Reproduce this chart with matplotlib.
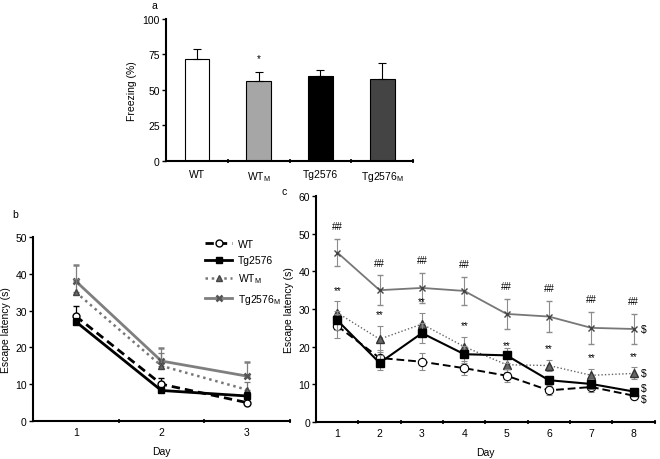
import numpy as np
import matplotlib.pyplot as plt

plt.rcParams['font.family'] = ['Liberation Sans', 'DejaVu Sans']
plt.rcParams['font.size'] = 7.5
plt.rcParams['mathtext.default'] = 'regular'

# panel a: freezing
groups = ['WT', r'WT$_M$', 'Tg2576', r'Tg2576$_M$']
freezing = [72, 56, 60, 57.5]
freezing_err = [7, 7, 4, 11.5]
bar_colors = ['white', '#a6a6a6', 'black', '#444444']

# panel b: escape latency, days 1-3
days_b = [1, 2, 3]
b_wt = [28.5, 10, 5]
b_wt_err = [2.8, 1.8, 1.0]
b_tg = [27, 8.3, 6.8]
b_tg_err = [1.0, 0.8, 1.0]
b_wtm = [35, 15, 8.5]
b_wtm_err = [3.5, 3.5, 2.0]
b_tgm = [38, 16.3, 12.2]
b_tgm_err = [4.5, 3.6, 3.8]

# panel c: escape latency, days 1-8
days_c = [1, 2, 3, 4, 5, 6, 7, 8]
c_wt = [25.5, 17, 16, 14.3, 12.3, 8.4, 9.3, 7]
c_wt_err = [3.3, 2.0, 2.3, 1.8, 1.8, 1.2, 1.4, 1.0]
c_tg = [27, 15.7, 23.6, 18, 17.7, 11.1, 10.1, 8.1]
c_tg_err = [2.5, 2.0, 2.6, 2.2, 2.0, 1.2, 1.3, 1.0]
c_wtm = [29, 22, 26, 20, 15.2, 15, 12.4, 12.9]
c_wtm_err = [3.0, 3.5, 3.0, 2.5, 2.0, 1.5, 1.6, 1.6]
c_tgm = [45, 35, 35.6, 34.8, 28.7, 28, 25, 24.7]
c_tgm_err = [3.6, 4.0, 4.0, 3.8, 4.0, 4.2, 4.2, 4.0]

fig = plt.figure(figsize=(6.6, 4.6), dpi=100)


def style_axes(ax):
    for s in ['top', 'right']:
        ax.spines[s].set_visible(False)
    for s in ['left', 'bottom']:
        ax.spines[s].set_linewidth(1.5)
    ax.tick_params(axis='y', direction='out', length=3, width=1, pad=1.5)
    ax.tick_params(axis='x', which='major', length=0, pad=4)
    ax.tick_params(axis='x', which='minor', direction='inout', length=3, width=1.2)


# ---- a ----
axa = fig.add_axes([0.2515, 0.648, 0.3745, 0.3085])
x = np.arange(1, len(groups) + 1)
axa.bar(x, freezing, width=0.4, color=bar_colors, edgecolor='black', linewidth=0.8,
        yerr=[np.zeros(len(freezing)), freezing_err], capsize=3,
        error_kw=dict(elinewidth=0.8, capthick=0.8))
axa.text(2, freezing[1] + freezing_err[1] + 6, '*', ha='center', va='bottom', fontsize=7)
axa.set_xlim(0.5, 4.5)
axa.set_ylim(0, 100)
axa.set_yticks([0, 25, 50, 75, 100])
axa.set_xticks(x)
axa.set_xticklabels(groups)
axa.set_xticks([1.5, 2.5, 3.5, 4.5], minor=True)
axa.set_ylabel('Freezing (%)', labelpad=4)
style_axes(axa)
axa.tick_params(axis='x', which='major', pad=6)
fig.text(152 / 660, 1 - 6 / 460, 'a', fontsize=7.5, va='center')

# ---- b ----
axb = fig.add_axes([0.05, 0.0826, 0.389, 0.4])
eb = dict(capsize=2.5, elinewidth=0.9, capthick=0.9)
axb.errorbar(days_b, b_tgm, yerr=[np.zeros(3), b_tgm_err], color='#7f7f7f', ecolor='#7f7f7f',
             lw=2, marker='x', ms=9, mew=1.8, mec='#555555', label=r'Tg2576$_M$', zorder=2, **eb)
axb.errorbar(days_b, b_wtm, yerr=[np.zeros(3), b_wtm_err], color='#777777', ecolor='#777777',
             lw=1.8, ls=(0, (1, 1.5)), marker='^', ms=9, mfc='#666666', mec='#444444',
             label=r'WT$_M$', zorder=3, **eb)
axb.errorbar(days_b, b_wt, yerr=[np.zeros(3), b_wt_err], color='black', ecolor='black',
             lw=2, ls=(0, (3, 1.8)), marker='o', ms=8, mfc='white', mec='black', mew=1,
             label='WT', zorder=4, **eb)
axb.errorbar(days_b, b_tg, yerr=[np.zeros(3), b_tg_err], color='black', ecolor='black',
             lw=2, marker='s', ms=7, mfc='black', label='Tg2576', zorder=5, **eb)
axb.set_xlim(0.5, 3.5)
axb.set_ylim(0, 50)
axb.set_yticks([0, 10, 20, 30, 40, 50])
axb.set_xticks(days_b)
axb.set_xticks([1.5, 2.5, 3.5], minor=True)
axb.set_xlabel('Day', labelpad=7)
axb.set_ylabel('Escape latency (s)', labelpad=3)
style_axes(axb)
h, l = axb.get_legend_handles_labels()
order = [l.index('WT'), l.index('Tg2576'), l.index(r'WT$_M$'), l.index(r'Tg2576$_M$')]
hs = [h[i][0] for i in order]
for hh in hs:
    hh.set_markersize(5)
axb.legend(hs, [l[i] for i in order], loc='upper right', bbox_to_anchor=(1.0, 1.04),
           frameon=False, handlelength=2.6, handletextpad=0.5, labelspacing=0.6,
           fontsize=7.5)
fig.text(12 / 660, 1 - 215 / 460, 'b', fontsize=7.5, va='center')

# ---- c ----
axc = fig.add_axes([0.479, 0.0804, 0.513, 0.4913])
ec = dict(capsize=2, elinewidth=0.8, capthick=0.8)
axc.errorbar(days_c, c_tgm, yerr=c_tgm_err, color='#777777', ecolor='#8c8c8c', lw=1.3,
             marker='x', ms=5, mew=1, mec='#444444', zorder=2, **ec)
axc.errorbar(days_c, c_wtm, yerr=c_wtm_err, color='#666666', ecolor='#8c8c8c', lw=1,
             ls=(0, (1, 1.5)), marker='^', ms=6, mfc='#666666', mec='#333333', zorder=3, **ec)
axc.errorbar(days_c, c_wt, yerr=c_wt_err, color='black', ecolor='#8c8c8c', lw=1.4,
             ls=(0, (4, 2)), marker='o', ms=6, mfc='white', mec='black', mew=0.8,
             zorder=4, **ec)
axc.errorbar(days_c, c_tg, yerr=c_tg_err, color='black', ecolor='#8c8c8c', lw=1.5,
             marker='s', ms=5.5, mfc='black', zorder=5, **ec)
for d, v, e in zip(days_c, c_tgm, c_tgm_err):
    axc.text(d, v + e + 2, '##', ha='center', va='bottom', fontsize=7)
for d, v, e in zip(days_c, c_wtm, c_wtm_err):
    axc.text(d, v + e + 1.8, '**', ha='center', va='bottom', fontsize=7)
for v, dy in zip([c_tgm[-1], c_wtm[-1], c_tg[-1], c_wt[-1]], [0, 0, 0.8, -1.0]):
    axc.text(8.18, v + dy, '$', ha='left', va='center', fontsize=7.5)
axc.set_xlim(0.5, 8.5)
axc.set_ylim(0, 60)
axc.set_yticks([0, 10, 20, 30, 40, 50, 60])
axc.set_xticks(days_c)
axc.set_xticks(np.arange(1.5, 9, 1), minor=True)
axc.set_xlabel('Day', labelpad=7)
axc.set_ylabel('Escape latency (s)', labelpad=3)
style_axes(axc)
fig.text(282 / 660, 1 - 192 / 460, 'c', fontsize=7.5, va='center')

fig.savefig('out.png', dpi=100)
